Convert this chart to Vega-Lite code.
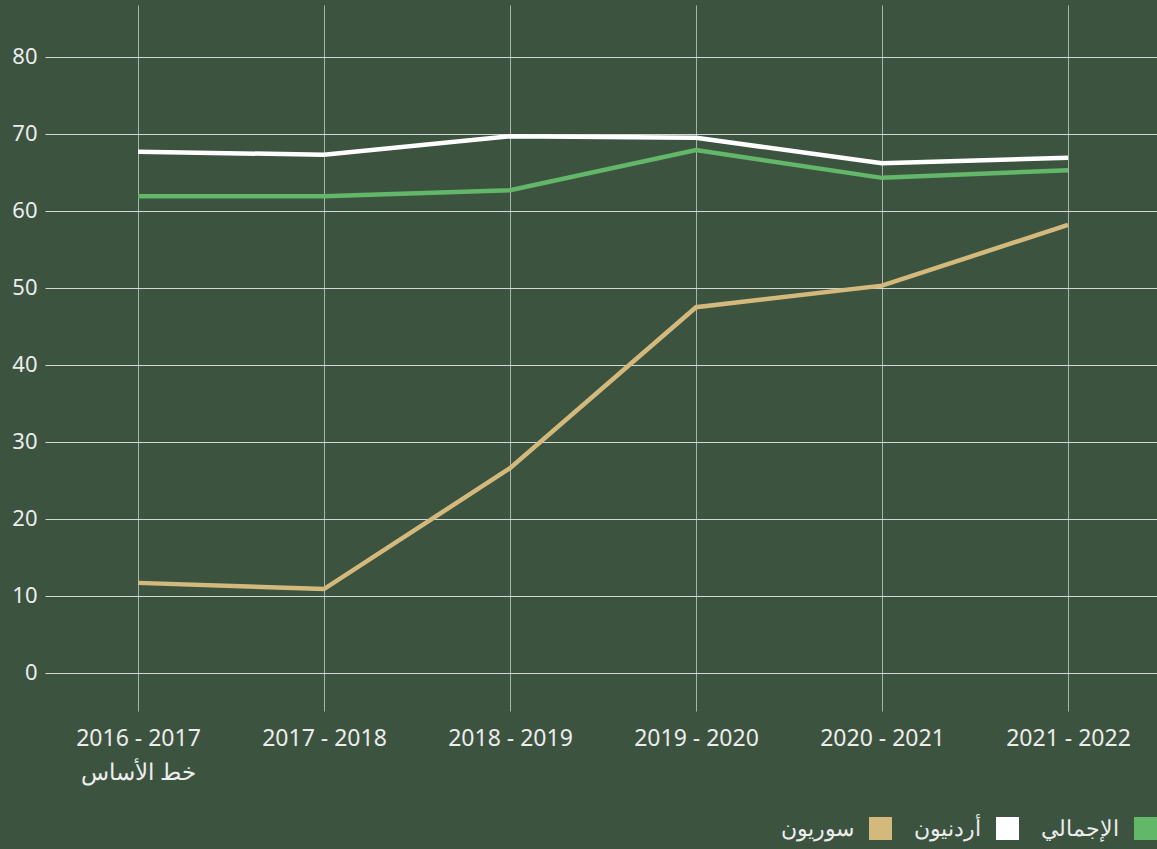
{
  "$schema": "https://vega.github.io/schema/vega-lite/v6.json",
  "autosize": {"type": "none"},
  "padding": {"left": 45, "top": 5, "right": 0, "bottom": 138},
  "width": 1116,
  "height": 706,
  "background": "#3c5340",
  "config": {
    "view": {"stroke": null},
    "font": "Noto Sans"
  },
  "data": {
    "values": [
      {"year": "2016 - 2017", "group": "الإجمالي", "value": 61.9},
      {"year": "2017 - 2018", "group": "الإجمالي", "value": 61.9},
      {"year": "2018 - 2019", "group": "الإجمالي", "value": 62.7},
      {"year": "2019 - 2020", "group": "الإجمالي", "value": 67.9},
      {"year": "2020 - 2021", "group": "الإجمالي", "value": 64.3},
      {"year": "2021 - 2022", "group": "الإجمالي", "value": 65.3},
      {"year": "2016 - 2017", "group": "أردنيون", "value": 67.7},
      {"year": "2017 - 2018", "group": "أردنيون", "value": 67.3},
      {"year": "2018 - 2019", "group": "أردنيون", "value": 69.7},
      {"year": "2019 - 2020", "group": "أردنيون", "value": 69.5},
      {"year": "2020 - 2021", "group": "أردنيون", "value": 66.2},
      {"year": "2021 - 2022", "group": "أردنيون", "value": 66.9},
      {"year": "2016 - 2017", "group": "سوريون", "value": 11.7},
      {"year": "2017 - 2018", "group": "سوريون", "value": 10.9},
      {"year": "2018 - 2019", "group": "سوريون", "value": 26.6},
      {"year": "2019 - 2020", "group": "سوريون", "value": 47.5},
      {"year": "2020 - 2021", "group": "سوريون", "value": 50.3},
      {"year": "2021 - 2022", "group": "سوريون", "value": 58.2}
    ]
  },
  "mark": {"type": "line", "strokeWidth": 4.5},
  "encoding": {
    "x": {
      "field": "year",
      "type": "ordinal",
      "scale": {"type": "point", "padding": 0.5},
      "axis": {
        "title": null,
        "labelAngle": 0,
        "domain": false,
        "ticks": false,
        "grid": true,
        "gridColor": "#a9b3a9",
        "gridWidth": 1,
        "labelColor": "#ececec",
        "labelFontSize": 23,
        "labelPadding": 16,
        "labelBaseline": "top",
        "labelLineHeight": 34,
        "labelExpr": "datum.value == '2016 - 2017' ? ['2016 - 2017', 'خط الأساس'] : datum.value"
      }
    },
    "y": {
      "field": "value",
      "type": "quantitative",
      "scale": {"domain": [-4.94, 86.75], "nice": false, "zero": false},
      "axis": {
        "title": null,
        "values": [0, 10, 20, 30, 40, 50, 60, 70, 80],
        "domain": false,
        "ticks": false,
        "grid": true,
        "gridColor": "#d3d8d2",
        "gridWidth": 1.2,
        "labelColor": "#ececec",
        "labelFontSize": 22,
        "labelPadding": 8
      }
    },
    "color": {
      "field": "group",
      "type": "nominal",
      "scale": {
        "domain": ["سوريون", "أردنيون", "الإجمالي"],
        "range": ["#d4b97c", "#ffffff", "#63b768"]
      },
      "legend": {
        "title": null,
        "orient": "none",
        "direction": "horizontal",
        "legendX": 824,
        "legendY": 812,
        "symbolType": "square",
        "symbolSize": 529,
        "symbolStrokeWidth": 0,
        "symbolOpacity": 1,
        "labelColor": "#ececec",
        "labelFontSize": 22,
        "labelAlign": "right",
        "labelOffset": -38,
        "columnPadding": 22,
        "encode": {
          "symbols": {"update": {"fill": {"scale": "color", "field": "value"}, "fillOpacity": {"value": 1}}}
        }
      }
    }
  }
}
